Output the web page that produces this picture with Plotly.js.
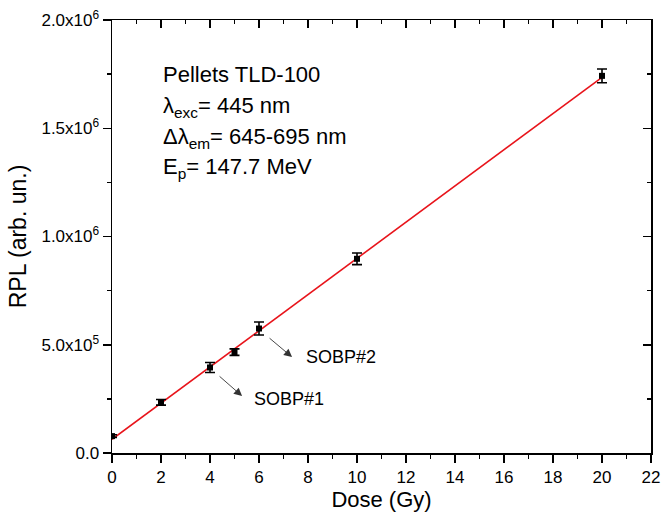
<!DOCTYPE html>
<html>
<head>
<meta charset="utf-8">
<script src="https://cdn.plot.ly/plotly-3.0.1.min.js"></script>
<style>html,body{margin:0;padding:0;background:#fff;}#chart{width:662px;height:524px;}</style>
</head>
<body>
<div id="chart"></div>
<script>
const dose = [0, 2, 4, 5, 6, 10, 20];
const rpl = [78000, 234000, 395000, 466000, 575000, 897000, 1742000];
const rplErr = [6000, 13000, 23000, 15000, 30000, 27000, 32000];
const fitDose = [0, 20];
const fitRpl = [63000, 1735000];
const yTickVals = [0, 500000, 1000000, 1500000, 2000000];
const yTickText = ["0.0", "5.0x10<sup>5</sup>", "1.0x10<sup>6</sup>", "1.5x10<sup>6</sup>", "2.0x10<sup>6</sup>"];
const xTickVals = [0, 2, 4, 6, 8, 10, 12, 14, 16, 18, 20, 22];
const infoLines = ["Pellets TLD-100", "λ<sub>exc</sub>= 445 nm", "Δλ<sub>em</sub>= 645-695 nm", "E<sub>p</sub>= 147.7 MeV"];

const FONT = "Liberation Sans, Arial, sans-serif";

const traces = [
  {x: fitDose, y: fitRpl, type: 'scatter', mode: 'lines', line: {color: '#e8141b', width: 1.6}, hoverinfo: 'skip'},
  {x: dose, y: rpl, type: 'scatter', mode: 'markers',
   marker: {symbol: 'square', size: 6, color: '#000'},
   error_y: {type: 'data', array: rplErr, visible: true, color: '#000', thickness: 1.6, width: 5}},
  {x: fitDose, y: fitRpl, xaxis: 'x2', yaxis: 'y2', type: 'scatter', mode: 'lines', opacity: 0, hoverinfo: 'skip', line: {width: 0}}
];

const axisCommon = {showgrid: false, zeroline: false, showline: true, linecolor: '#000', linewidth: 1.5, tickcolor: '#000', tickwidth: 1.5};

const annotations = [];
const infoY = [0.874, 0.798, 0.728, 0.659];
infoLines.forEach((t, i) => {
  annotations.push({xref: 'paper', yref: 'paper', x: 0.091, y: infoY[i], xanchor: 'left', yanchor: 'middle',
    text: t, showarrow: false, font: {family: FONT, size: 22, color: '#000'}});
});
annotations.push({xref: 'x', yref: 'y', axref: 'x', ayref: 'y', x: 5.31, y: 263000, ax: 4.33, ay: 360000,
  showarrow: true, arrowhead: 2, arrowsize: 1.8, arrowwidth: 0.9, arrowcolor: '#333', text: ''});
annotations.push({xref: 'x', yref: 'y', axref: 'x', ayref: 'y', x: 7.35, y: 443000, ax: 6.37, ay: 536000,
  showarrow: true, arrowhead: 2, arrowsize: 1.8, arrowwidth: 0.9, arrowcolor: '#333', text: ''});
annotations.push({xref: 'x', yref: 'y', x: 5.71, y: 249000, xanchor: 'left', yanchor: 'middle', text: 'SOBP#1',
  showarrow: false, font: {family: FONT, size: 18, color: '#000'}});
annotations.push({xref: 'x', yref: 'y', x: 7.82, y: 443000, xanchor: 'left', yanchor: 'middle', text: 'SOBP#2',
  showarrow: false, font: {family: FONT, size: 18, color: '#000'}});

const layout = {
  width: 662, height: 524,
  margin: {l: 112, r: 11, t: 20, b: 71},
  paper_bgcolor: '#fff', plot_bgcolor: '#fff',
  showlegend: false,
  font: {family: FONT, color: '#000'},
  xaxis: Object.assign({}, axisCommon, {
    range: [0, 22], tickmode: 'array', tickvals: xTickVals, ticks: 'outside', ticklen: 8,
    tickfont: {family: FONT, size: 17}, minor: {dtick: 1, tick0: 0, ticks: 'outside', ticklen: 4, tickwidth: 1.5, tickcolor: '#000'},
    title: {text: 'Dose (Gy)', font: {family: FONT, size: 22}, standoff: 4}
  }),
  yaxis: Object.assign({}, axisCommon, {
    range: [0, 2000000], tickmode: 'array', tickvals: yTickVals, ticktext: yTickText, ticks: 'outside', ticklen: 8,
    tickfont: {family: FONT, size: 17}, minor: {dtick: 250000, tick0: 0, ticks: 'outside', ticklen: 4, tickwidth: 1.5, tickcolor: '#000'},
    title: {text: 'RPL (arb. un.)', font: {family: FONT, size: 23}, standoff: 8}
  }),
  xaxis2: Object.assign({}, axisCommon, {
    overlaying: 'x', side: 'top', anchor: 'y2', range: [0, 22], dtick: 2, tick0: 0, ticks: 'inside', ticklen: 8,
    showticklabels: false, minor: {dtick: 1, tick0: 0, ticks: 'inside', ticklen: 4, tickwidth: 1.5, tickcolor: '#000'}
  }),
  yaxis2: Object.assign({}, axisCommon, {
    overlaying: 'y', side: 'right', anchor: 'x2', range: [0, 2000000], dtick: 500000, tick0: 0, ticks: 'inside', ticklen: 8,
    showticklabels: false, minor: {dtick: 250000, tick0: 0, ticks: 'inside', ticklen: 4, tickwidth: 1.5, tickcolor: '#000'}
  }),
  annotations: annotations
};

Plotly.newPlot('chart', traces, layout, {staticPlot: true, displayModeBar: false});
</script>
</body>
</html>
